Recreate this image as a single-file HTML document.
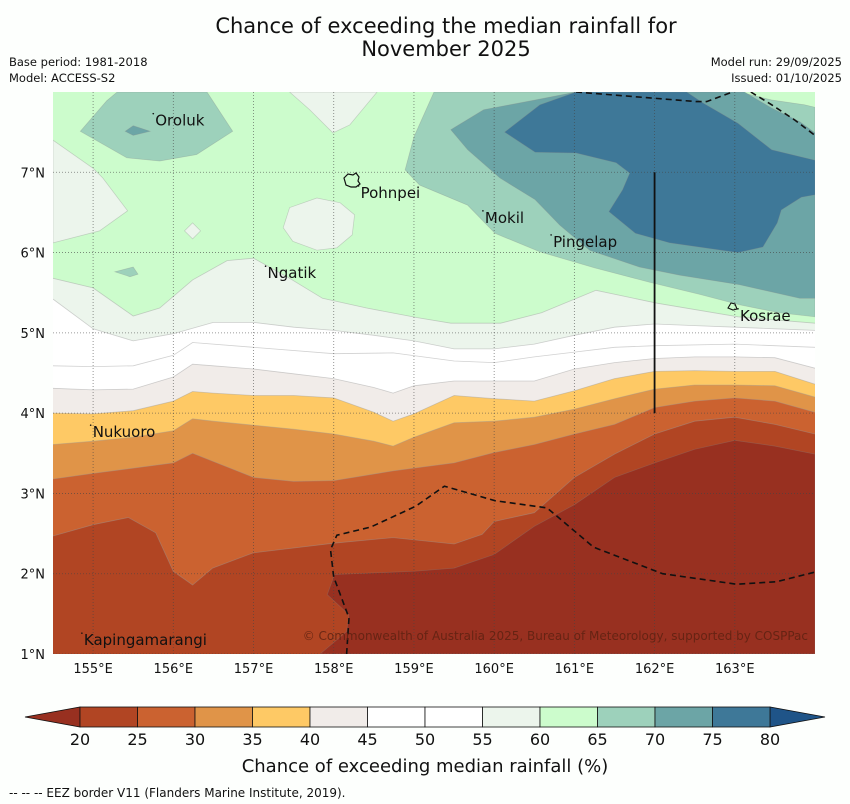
<!DOCTYPE html>
<html><head><meta charset="utf-8">
<style>
body{margin:0;background:#fdfffd;}
svg{display:block;font-family:"DejaVu Sans","Liberation Sans",sans-serif;}
</style></head>
<body>
<svg id="fig" width="850" height="804" viewBox="0 0 850 804">
<rect x="0" y="0" width="850" height="804" fill="#fdfffd"/>
<text x="446" y="33" font-size="21" text-anchor="middle" fill="#111">Chance of exceeding the median rainfall for</text>
<text x="446" y="56" font-size="21" text-anchor="middle" fill="#111">November 2025</text>
<text x="9" y="66" font-size="11.5" fill="#111">Base period: 1981-2018</text>
<text x="9" y="82" font-size="11.5" fill="#111">Model: ACCESS-S2</text>
<text x="842" y="66" font-size="11.5" text-anchor="end" fill="#111">Model run: 29/09/2025</text>
<text x="842" y="82" font-size="11.5" text-anchor="end" fill="#111">Issued: 01/10/2025</text>
<defs><clipPath id="mapclip"><rect x="53" y="92" width="762" height="562"/></clipPath></defs>
<g id="map" clip-path="url(#mapclip)"></g>
<g id="axes"></g>
<g id="cbar"></g>
<text x="425" y="772" font-size="18" text-anchor="middle" fill="#111">Chance of exceeding median rainfall (%)</text>
<text x="9" y="797" font-size="12" fill="#111">--  --  -- EEZ border V11 (Flanders Marine Institute, 2019).</text>
</svg>
<script>
// ---- data (lon, lat) ----
const lonTicks=[155,156,157,158,159,160,161,162,163];
const latTicks=[1,2,3,4,5,6,7];
const cbarLevels=[20,25,30,35,40,45,50,55,60,65,70,75,80];
const cbarColors=['#b14523','#cb6230','#e09448','#fec965','#f1ece9','#ffffff','#ffffff','#ecf5ec','#ccfccc','#9dd1bb','#6ca5a6','#3e7898'];
const lowColor='#983020', highColor='#1f5488';
const line60=[[154.5,5.68],[155,5.56],[155.5,5.21],[155.83,5.31],[156.24,5.66],[156.67,5.90],[157,5.93],[157.45,5.68],[157.86,5.43],[158.41,5.31],[159.04,5.19],[159.46,5.12],[160.08,5.12],[160.59,5.25],[161.27,5.53],[162.03,5.37],[163.04,5.20],[164,5.12]];
const line55=[[154.5,5.42],[155,5.05],[155.5,4.90],[156,4.99],[156.5,5.13],[157,5.13],[157.5,5.07],[158,5.03],[158.5,4.97],[159,4.90],[159.5,4.80],[160,4.80],[160.5,4.86],[161,4.97],[161.5,5.07],[162,5.11],[162.5,5.09],[163,5.07],[163.5,5.05],[164,5.03]];
const line50=[[154.5,4.59],[155,4.58],[155.5,4.59],[156,4.72],[156.24,4.88],[157,4.82],[158,4.74],[158.74,4.75],[159.5,4.65],[160,4.63],[160.5,4.70],[161,4.76],[161.5,4.82],[162,4.84],[163,4.86],[164,4.82]];
const line45=[[154.5,4.31],[155,4.29],[155.5,4.30],[156,4.45],[156.24,4.61],[156.5,4.59],[157,4.55],[157.5,4.49],[158,4.43],[158.5,4.32],[158.74,4.25],[159,4.34],[159.5,4.40],[160,4.40],[160.5,4.40],[161,4.55],[161.5,4.63],[162,4.68],[162.5,4.70],[163,4.70],[163.5,4.69],[164,4.56]];
const line40=[[154.5,4.00],[155,3.99],[155.5,4.03],[156,4.15],[156.24,4.27],[156.5,4.25],[157,4.22],[157.5,4.22],[158,4.19],[158.5,4.01],[158.74,3.90],[159,3.99],[159.5,4.22],[160,4.18],[160.5,4.15],[161,4.28],[161.5,4.43],[162,4.52],[162.5,4.53],[163,4.52],[163.5,4.52],[164,4.36]];
const line35=[[154.5,3.61],[155,3.65],[155.5,3.70],[156,3.78],[156.24,3.93],[156.5,3.90],[157,3.85],[157.5,3.80],[158,3.74],[158.5,3.65],[158.74,3.59],[159,3.70],[159.5,3.88],[160,3.90],[160.5,3.95],[161,4.05],[161.5,4.18],[162,4.30],[162.5,4.35],[163,4.35],[163.5,4.34],[164,4.20]];
const line30=[[154.5,3.18],[155,3.25],[156,3.38],[156.24,3.50],[157,3.20],[157.5,3.15],[158,3.16],[158.74,3.28],[159.5,3.38],[160,3.51],[160.5,3.61],[161,3.74],[161.5,3.86],[162,4.07],[162.5,4.15],[163,4.19],[163.5,4.15],[164,4.01]];
const line25=[[154.5,2.47],[155,2.61],[155.44,2.70],[155.78,2.51],[156,2.03],[156.24,1.86],[156.49,2.07],[157,2.26],[158,2.38],[158.74,2.45],[159.5,2.37],[159.85,2.49],[160,2.65],[160.5,2.76],[161,3.20],[161.5,3.49],[162,3.74],[162.5,3.90],[163,3.95],[163.5,3.86],[164,3.74]];
const zoneLow20=[[158.01,1.99],[159,2.03],[159.5,2.07],[160,2.24],[160.5,2.59],[161,2.86],[161.5,3.20],[162,3.38],[162.5,3.55],[163,3.66],[163.5,3.59],[164,3.49],[164,1],[157.83,1],[158.16,1.28],[158.19,1.49],[157.92,1.74]];
const patch55a=[[154.5,7.40],[155,7.05],[155.12,6.93],[155.43,6.52],[155.08,6.27],[154.5,6.12]];
const patch55b=[[157.45,8],[157.7,7.78],[157.99,7.49],[158.2,7.59],[158.54,8]];
const patch55c=[[157.37,6.31],[157.45,6.56],[157.79,6.68],[158.08,6.62],[158.26,6.47],[158.23,6.22],[158.04,6.06],[157.79,6.03],[157.49,6.14]];
const patch55d=[[156.14,6.27],[156.24,6.37],[156.34,6.27],[156.24,6.17]];
const patch65a=[[154.84,7.51],[155.17,7.89],[155.30,8],[156.42,8],[156.74,7.51],[156.29,7.22],[155.83,7.14],[155.42,7.18]];
const patch70a=[[155.40,7.51],[155.50,7.58],[155.71,7.51],[155.50,7.46]];
const patch65b=[[155.27,5.76],[155.50,5.82],[155.56,5.73],[155.46,5.70]];
const patch65ne=[[159.25,8],[159.0,7.44],[158.89,7.03],[159.07,6.84],[159.67,6.59],[160.01,6.24],[160.57,6.01],[161.25,5.81],[161.94,5.63],[162.56,5.48],[163.06,5.35],[163.56,5.25],[164,5.20],[164,7.81],[163.87,7.84],[163.46,7.90],[163.06,8]];
const patch70ne=[[161.02,8],[160.51,7.90],[159.87,7.78],[159.46,7.53],[159.67,7.28],[160.07,6.93],[160.51,6.66],[160.82,6.34],[161.19,6.03],[161.81,5.82],[162.31,5.72],[163.06,5.60],[163.81,5.43],[164,5.43],[164,7.49],[163.81,7.63],[163.46,7.80],[163.12,8]];
const patch75ne=[[161.02,8],[160.57,7.84],[160.13,7.50],[160.51,7.25],[161.02,7.24],[161.52,7.12],[161.69,6.99],[161.60,6.78],[161.43,6.51],[161.76,6.24],[162.19,6.12],[163.04,6.00],[163.35,6.07],[163.53,6.37],[163.58,6.53],[163.83,6.69],[164,6.72],[164,7.15],[163.46,7.28],[163.04,7.61],[162.61,7.86],[162.40,8]];
const eezA=[[161.02,8],[162.52,7.88],[162.65,7.88],[162.97,8]];
const eezB=[[163.2,8],[163.46,7.84],[163.75,7.65],[164,7.46]];
const eezC=[[158.16,1],[158.19,1.45],[158.0,1.96],[157.96,2.30],[158.04,2.48],[158.46,2.58],[159.02,2.84],[159.38,3.09],[160.01,2.91],[160.66,2.82],[161.24,2.33],[162.10,2.0],[163.02,1.87],[163.52,1.90],[164,2.02]];
const placeNames=['Oroluk','Pohnpei','Mokil','Pingelap','Ngatik','Kosrae','Nukuoro','Kapingamarangi'];
const placeLon=[155.75,158.31,159.86,160.71,157.15,163.04,154.97,154.86];
const placeLat=[7.73,6.83,6.52,6.22,5.83,5.30,3.85,1.26];

// ---- axis functions ----
const LON0=154.5,LON1=164,LAT0=1,LAT1=8,X0=53,X1=815,Y0=92,Y1=654;
const px=lon=>X0+(lon-LON0)/(LON1-LON0)*(X1-X0);
const py=lat=>Y1-(lat-LAT0)/(LAT1-LAT0)*(Y1-Y0);
const NS='http://www.w3.org/2000/svg';
function mk(tag,attrs,parent){const e=document.createElementNS(NS,tag);for(const k in attrs)e.setAttribute(k,attrs[k]);parent.appendChild(e);return e;}
const pts=a=>a.map(p=>px(p[0]).toFixed(1)+','+py(p[1]).toFixed(1)).join(' ');
const map=document.getElementById('map');

const base=mk('rect',{x:X0,y:Y0,width:X1-X0,height:Y1-Y0,fill:cbarColors[8]},map);



function below(line,color,name){
  const poly=line.concat([[LON1,LAT0-0.2],[LON0,LAT0-0.2]]);
  const e=mk('polygon',{points:pts(poly),fill:color,stroke:'none'},map);
  
  
  const l=mk('polyline',{points:pts(line),fill:'none',stroke:'#999',"stroke-width":0.8,"stroke-opacity":0.45},map);
  
  
}
below(line60,cbarColors[7],'band-55-60');
below(line55,cbarColors[6],'band-50-55');
below(line50,cbarColors[5],'band-45-50');
below(line45,cbarColors[4],'band-40-45');
below(line40,cbarColors[3],'band-35-40');
below(line35,cbarColors[2],'band-30-35');
below(line30,cbarColors[1],'band-25-30');
below(line25,cbarColors[0],'band-20-25');
function patch(a,color,name){
  const e=mk('polygon',{points:pts(a),fill:color,stroke:'#888',"stroke-width":0.7,"stroke-opacity":0.35},map);
  
  
}
patch(zoneLow20,lowColor,'band-below-20');
patch(patch55a,cbarColors[7],'patch-55-60-west');
patch(patch55b,cbarColors[7],'patch-55-60-north');
patch(patch55c,cbarColors[7],'patch-55-60-pohnpei');
patch(patch55d,cbarColors[7],'patch-55-60-small');
patch(patch65a,cbarColors[9],'patch-65-70-oroluk');
patch(patch70a,cbarColors[10],'patch-70-75-oroluk');
patch(patch65b,cbarColors[9],'patch-65-70-small');
patch(patch65ne,cbarColors[9],'patch-65-70-northeast');
patch(patch70ne,cbarColors[10],'patch-70-75-northeast');
patch(patch75ne,cbarColors[11],'patch-75-80-northeast');

// gridlines
lonTicks.forEach(v=>{
  const g=mk('line',{x1:px(v),x2:px(v),y1:Y0,y2:Y1,stroke:'#444',"stroke-width":0.8,"stroke-dasharray":"1,2","stroke-opacity":0.7},map);
  
  
});
latTicks.forEach(v=>{
  const g=mk('line',{x1:X0,x2:X1,y1:py(v),y2:py(v),stroke:'#444',"stroke-width":0.8,"stroke-dasharray":"1,2","stroke-opacity":0.7},map);
  
  
});
// EEZ borders
[eezA,eezB,eezC].forEach(a=>{
  const e=mk('polyline',{points:pts(a),fill:'none',stroke:'#111',"stroke-width":1.6,"stroke-dasharray":"6,4"},map);
  
  
});
const vl=mk('line',{x1:px(162),x2:px(162),y1:py(7),y2:py(4),stroke:'#111',"stroke-width":1.8},map);


// islands
const pohn=mk('path',{d:'M344,178 l4,-4 l5,1 l3,-2 l3,4 l-1,4 l2,3 l-4,3 l-5,0 l-5,-2 z',fill:'none',stroke:'#111',"stroke-width":1.2},map);


const kos=mk('path',{d:'M728,308 l3,-5 l4,1 l2,5 l-4,1 z',fill:'none',stroke:'#111',"stroke-width":1.1},map);


placeNames.forEach((n,i)=>{
  const t=mk('text',{x:px(placeLon[i])+2,y:py(placeLat[i])+12,"font-size":15,fill:'#111'},map);
  t.textContent=n;
  
  
  const d=mk('circle',{cx:px(placeLon[i]),cy:py(placeLat[i]),r:0.8,fill:'#111'},map);
  
  
});
const cp=mk('text',{x:808,y:640,"font-size":12,"text-anchor":"end",fill:'#5a2010',"fill-opacity":0.8},map);
cp.textContent='© Commonwealth of Australia 2025, Bureau of Meteorology, supported by COSPPac';



// axes
const axes=document.getElementById('axes');
lonTicks.forEach(v=>{
  const t=mk('text',{x:px(v),y:673,"font-size":13,"text-anchor":"middle",fill:'#111'},axes);
  t.textContent=v+'°E';
  
  
});
latTicks.forEach(v=>{
  const t=mk('text',{x:45,y:py(v)+5,"font-size":13,"text-anchor":"end",fill:'#111'},axes);
  t.textContent=v+'°N';
  
  
});

// colorbar
const cb=document.getElementById('cbar');
const CX0=80,CX1=770,CY0=707,CY1=727;
const cx=v=>CX0+(v-cbarLevels[0])/(cbarLevels[cbarLevels.length-1]-cbarLevels[0])*(CX1-CX0);
const lt=mk('polygon',{points:`${CX0},${CY0} ${CX0},${CY1} 25,${(CY0+CY1)/2}`,fill:lowColor,stroke:'#111',"stroke-width":0.8},cb);


const rt=mk('polygon',{points:`${CX1},${CY0} ${CX1},${CY1} 825,${(CY0+CY1)/2}`,fill:highColor,stroke:'#111',"stroke-width":0.8},cb);


cbarColors.forEach((c,i)=>{
  const r=mk('rect',{x:cx(cbarLevels[i]),y:CY0,width:cx(cbarLevels[i+1])-cx(cbarLevels[i]),height:CY1-CY0,fill:c,stroke:'#111',"stroke-width":0.8},cb);
  
  
});
cbarLevels.forEach(v=>{
  const t=mk('text',{x:cx(v),y:745,"font-size":16,"text-anchor":"middle",fill:'#111'},cb);
  t.textContent=v;
  
  
});
</script>
</body></html>
